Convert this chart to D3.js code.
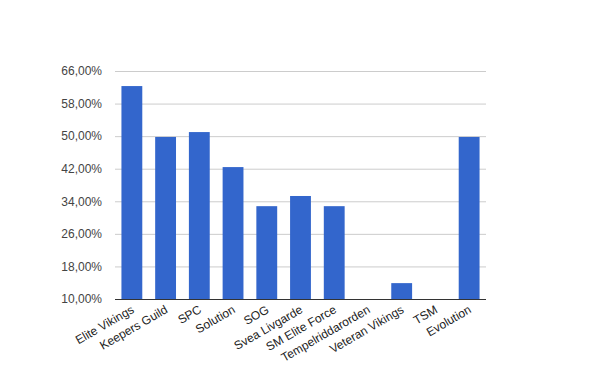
<!DOCTYPE html>
<html>
<head>
<meta charset="utf-8">
<script src="https://cdn.jsdelivr.net/npm/d3@7"></script>
<style>
  body { margin: 0; background: #fff; }
  svg { display: block; font-family: "Liberation Sans", Arial, sans-serif; }
</style>
</head>
<body>
<div id="chart"></div>
<script>
// Chart data
const teams = ['Elite Vikings', 'Keepers Guild', 'SPC', 'Solution', 'SOG', 'Svea Livgarde',
    'SM Elite Force', 'Tempelriddarorden', 'Veteran Vikings', 'TSM', 'Evolution'];
const winRates = [62.3, 49.8, 51.0, 42.4, 32.8, 35.3, 32.8, 10, 13.9, 10, 49.8];
const yTicks = [10, 18, 26, 34, 42, 50, 58, 66];

const width = 600;
const height = 371;
const margin = { top: 71, right: 114, bottom: 72, left: 115 };

const svg = d3.select('#chart')
    .append('svg')
    .attr('width', width)
    .attr('height', height);

const x = d3.scaleBand()
    .domain(teams)
    .range([margin.left, width - margin.right])
    .paddingInner(0.382)
    .paddingOuter(0.191);

const y = d3.scaleLinear()
    .domain([10, 66])
    .range([height - margin.bottom, margin.top]);

const locale = d3.formatLocale({ decimal: ',', thousands: '.', grouping: [3], currency: ['', ''] });
const fmt = v => locale.format('.2f')(v) + '%';

// Gridlines and y labels
const yAxis = d3.axisLeft(y)
    .tickValues(yTicks)
    .tickSize(-(width - margin.left - margin.right))
    .tickPadding(13)
    .tickFormat(fmt);

svg.append('g')
    .attr('transform', `translate(${margin.left},0)`)
    .call(yAxis)
    .call(g => g.select('.domain').remove())
    .call(g => g.selectAll('.tick line').attr('stroke', '#cccccc'))
    .call(g => g.selectAll('.tick text')
        .attr('fill', '#444')
        .style('font-size', '12px'));

// Bars
svg.append('g')
    .selectAll('rect')
    .data(teams)
    .enter()
    .append('rect')
    .attr('x', d => x(d))
    .attr('width', x.bandwidth())
    .attr('y', (d, i) => y(winRates[i]))
    .attr('height', (d, i) => y(10) - y(winRates[i]))
    .attr('fill', '#3366cc');

// Baseline
svg.append('line')
    .attr('x1', margin.left)
    .attr('x2', width - margin.right)
    .attr('y1', y(10) + 0.5)
    .attr('y2', y(10) + 0.5)
    .attr('stroke', '#333');

// X labels, rotated
svg.append('g')
    .selectAll('text')
    .data(teams)
    .enter()
    .append('text')
    .attr('transform', d => `translate(${x(d) + x.bandwidth() / 2 + 3},${y(10) + 13}) rotate(-30)`)
    .attr('text-anchor', 'end')
    .attr('fill', '#222')
    .style('font-size', '12px')
    .text(d => d);
</script>
</body>
</html>
